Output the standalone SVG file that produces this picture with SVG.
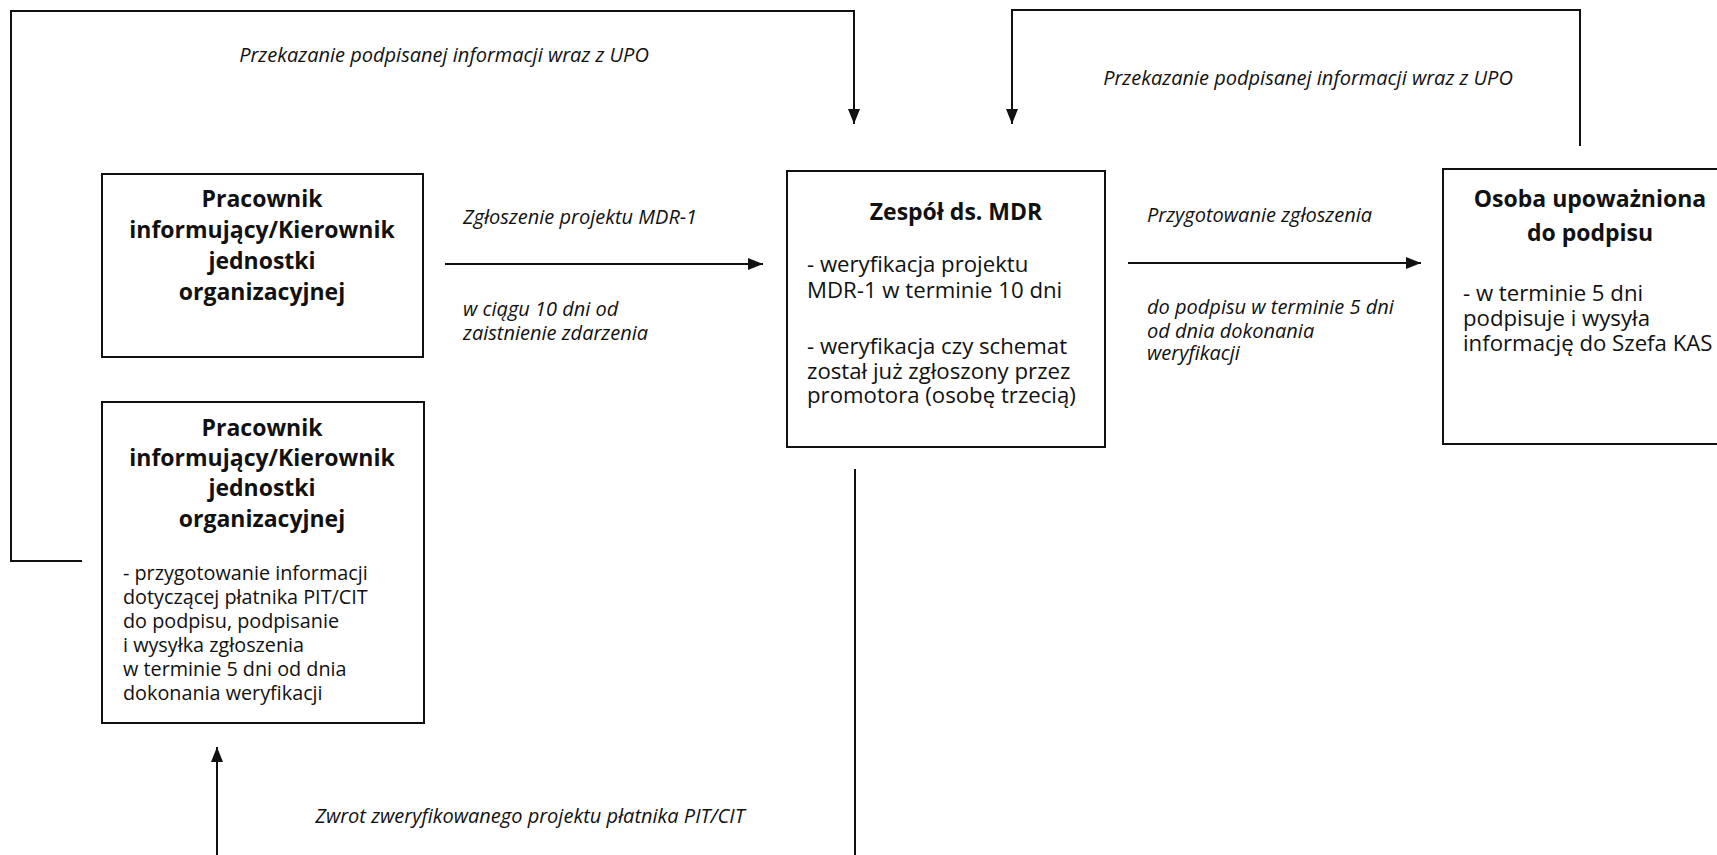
<svg xmlns="http://www.w3.org/2000/svg" width="1717" height="855" viewBox="0 0 1717 855">
<defs>
<style>
.box{fill:#fff;stroke:#111;stroke-width:2}
.ln{fill:none;stroke:#111;stroke-width:2}
.t{font-family:"Open Sans","Noto Sans",sans-serif;fill:#111}
.title{font-size:23px;font-weight:bold;text-anchor:middle}
.body{font-size:22.2px}
.small{font-size:19.8px}
.lbl{font-family:"Open Sans","Noto Sans",sans-serif;fill:#111;font-size:20px;font-style:italic}
.mid{text-anchor:middle}
</style>
<marker id="ah" markerUnits="userSpaceOnUse" markerWidth="16" markerHeight="13" refX="15" refY="6" orient="auto">
<path d="M0,0 L15,6 L0,12 z" fill="#111"/>
</marker>
</defs>
<rect width="1717" height="855" fill="#fff"/>

<g id="connectors">
<path class="ln" d="M82,561 H11 V11 H854 V124" marker-end="url(#ah)"/>
<path class="ln" d="M1580,146 V10 H1012 V124" marker-end="url(#ah)"/>
<path class="ln" d="M445,264 H763" marker-end="url(#ah)"/>
<path class="ln" d="M1128,263 H1421" marker-end="url(#ah)"/>
<path class="ln" d="M217,855 V747" marker-end="url(#ah)"/>
<path class="ln" d="M855,469 V855"/>
<text class="lbl mid" x="444" y="62">Przekazanie podpisanej informacji wraz z UPO</text>
<text class="lbl mid" x="1308" y="85">Przekazanie podpisanej informacji wraz z UPO</text>
<text class="lbl" x="463" y="224">Zgłoszenie projektu MDR-1</text>
<text class="lbl" x="463" y="316">w ciągu 10 dni od</text>
<text class="lbl" x="463" y="340">zaistnienie zdarzenia</text>
<text class="lbl" x="1147" y="222">Przygotowanie zgłoszenia</text>
<text class="lbl" x="1147" y="314">do podpisu w terminie 5 dni</text>
<text class="lbl" x="1147" y="338">od dnia dokonania</text>
<text class="lbl" x="1147" y="360">weryfikacji</text>
<text class="lbl mid" x="530" y="823">Zwrot zweryfikowanego projektu płatnika PIT/CIT</text>
</g>

<g id="node-pracownik-1">
<rect class="box" x="102" y="174" width="321" height="183"/>
<text class="t title" x="262" y="207">Pracownik</text>
<text class="t title" x="262" y="238">informujący/Kierownik</text>
<text class="t title" x="262" y="269">jednostki</text>
<text class="t title" x="262" y="300">organizacyjnej</text>
</g>

<g id="node-pracownik-2">
<rect class="box" x="102" y="402" width="322" height="321"/>
<text class="t title" x="262" y="436">Pracownik</text>
<text class="t title" x="262" y="466">informujący/Kierownik</text>
<text class="t title" x="262" y="496">jednostki</text>
<text class="t title" x="262" y="527">organizacyjnej</text>
<text class="t small" x="123" y="580">- przygotowanie informacji</text>
<text class="t small" x="123" y="604">dotyczącej płatnika PIT/CIT</text>
<text class="t small" x="123" y="628">do podpisu, podpisanie</text>
<text class="t small" x="123" y="652">i wysyłka zgłoszenia</text>
<text class="t small" x="123" y="676">w terminie 5 dni od dnia</text>
<text class="t small" x="123" y="700">dokonania weryfikacji</text>
</g>

<g id="node-zespol">
<rect class="box" x="787" y="171" width="318" height="276"/>
<text class="t title" x="956" y="220" font-size="24">Zespół ds. MDR</text>
<text class="t body" x="807" y="272">- weryfikacja projektu</text>
<text class="t body" x="807" y="298">MDR-1 w terminie 10 dni</text>
<text class="t body" x="807" y="354">- weryfikacja czy schemat</text>
<text class="t body" x="807" y="379">został już zgłoszony przez</text>
<text class="t body" x="807" y="403">promotora (osobę trzecią)</text>
</g>

<g id="node-osoba">
<rect class="box" x="1443" y="169" width="320" height="275"/>
<text class="t title" x="1590" y="207" font-size="25">Osoba upoważniona</text>
<text class="t title" x="1590" y="241" font-size="25">do podpisu</text>
<text class="t body" x="1463" y="301">- w terminie 5 dni</text>
<text class="t body" x="1463" y="326">podpisuje i wysyła</text>
<text class="t body" x="1463" y="351">informację do Szefa KAS</text>
</g>
</svg>
